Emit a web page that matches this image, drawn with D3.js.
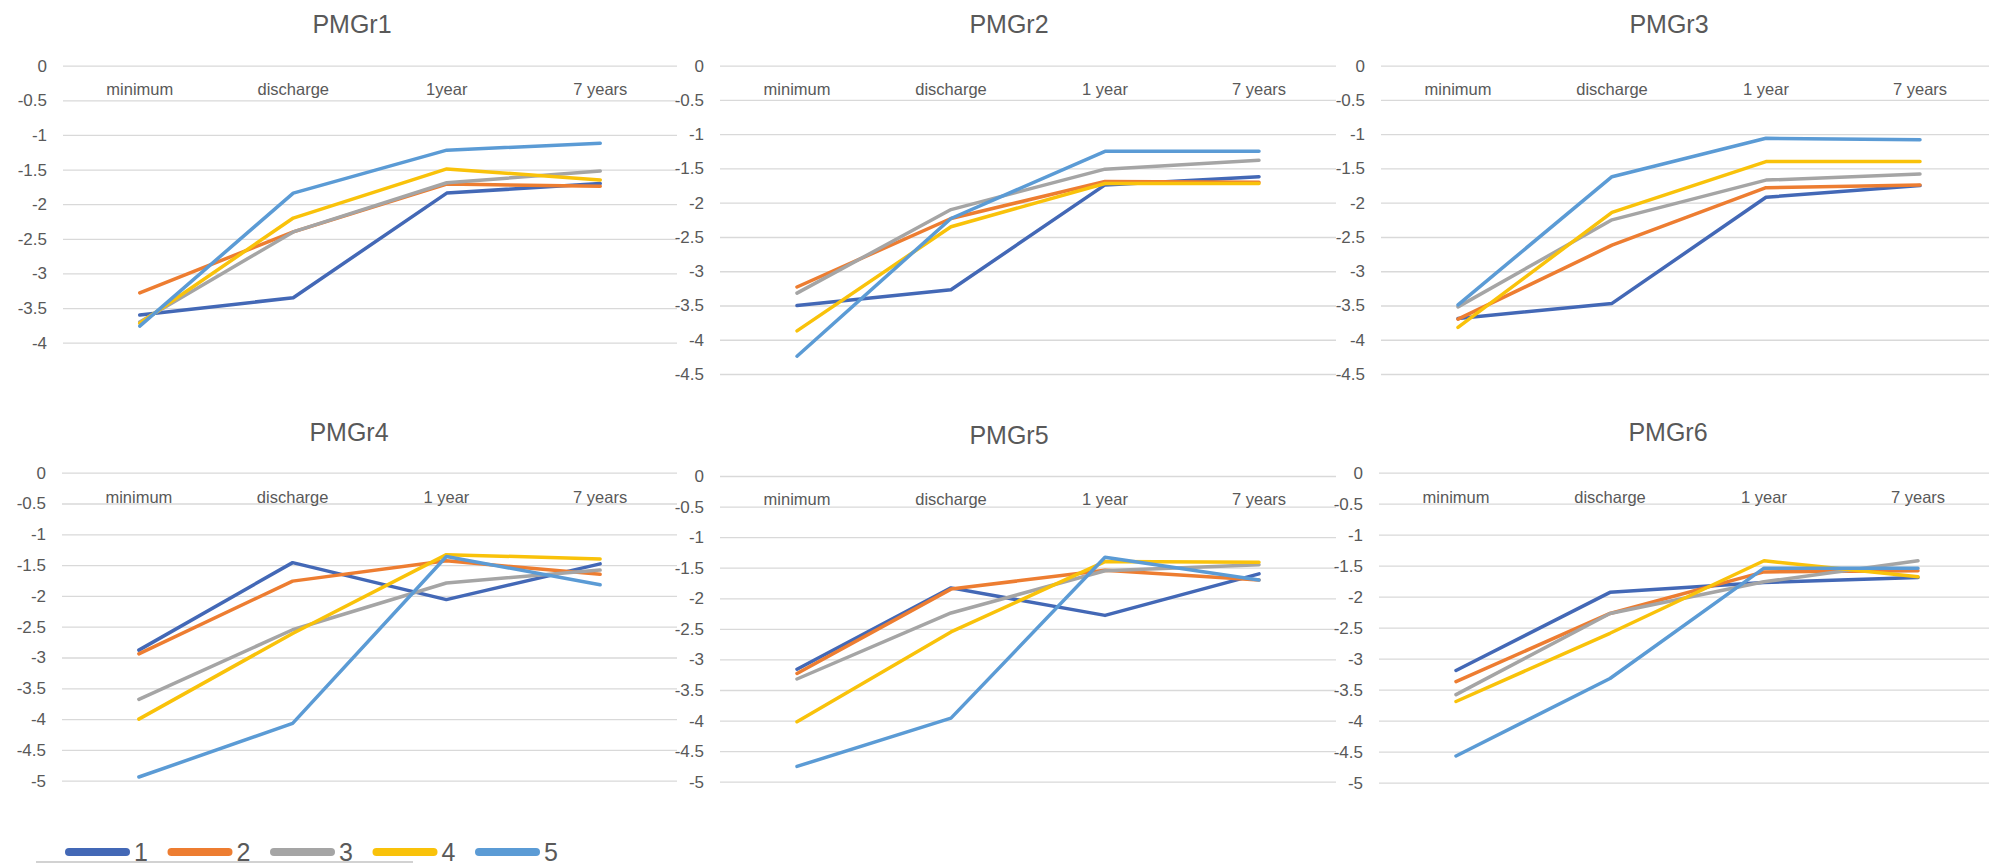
<!DOCTYPE html>
<html>
<head>
<meta charset="utf-8">
<script src="https://cdn.jsdelivr.net/npm/d3@7"></script>
<style>
  html, body { margin: 0; padding: 0; background: #fff; }
  svg { display: block; font-family: "Liberation Sans", Arial, sans-serif; }
</style>
</head>
<body>
<svg id="chart" width="1989" height="865"></svg>
<script>
// ---------- data ----------
const seriesNames = ["1", "2", "3", "4", "5"];
const seriesColors = ["#4368B6", "#ED7D31", "#A5A5A5", "#F9C20A", "#5B9BD5"];
const panelTitles = ["PMGr1", "PMGr2", "PMGr3", "PMGr4", "PMGr5", "PMGr6"];
const categoriesP1 = ["minimum", "discharge", "1year", "7 years"];
const categories = ["minimum", "discharge", "1 year", "7 years"];
const ticksTop1 = [0, -0.5, -1, -1.5, -2, -2.5, -3, -3.5, -4];
const ticksTop = [0, -0.5, -1, -1.5, -2, -2.5, -3, -3.5, -4, -4.5];
const ticksBottom = [0, -0.5, -1, -1.5, -2, -2.5, -3, -3.5, -4, -4.5, -5];

// values per panel: one row per series (1..5), one value per category
const pmgr1 = [
  [-3.60, -3.35, -1.84, -1.70],
  [-3.28, -2.40, -1.71, -1.74],
  [-3.70, -2.40, -1.69, -1.52],
  [-3.72, -2.20, -1.49, -1.65],
  [-3.76, -1.84, -1.22, -1.12]
];
const pmgr2 = [
  [-3.50, -3.27, -1.74, -1.62],
  [-3.23, -2.23, -1.69, -1.70],
  [-3.32, -2.10, -1.51, -1.38],
  [-3.87, -2.35, -1.72, -1.72],
  [-4.24, -2.23, -1.25, -1.25]
];
const pmgr3 = [
  [-3.69, -3.47, -1.92, -1.75],
  [-3.70, -2.62, -1.78, -1.74],
  [-3.52, -2.25, -1.67, -1.58],
  [-3.82, -2.14, -1.40, -1.40],
  [-3.49, -1.62, -1.06, -1.08]
];
const pmgr4 = [
  [-2.88, -1.46, -2.06, -1.48],
  [-2.94, -1.76, -1.43, -1.65],
  [-3.68, -2.55, -1.79, -1.58],
  [-4.00, -2.61, -1.33, -1.40],
  [-4.94, -4.07, -1.36, -1.82]
];
const pmgr5 = [
  [-3.16, -1.83, -2.28, -1.60],
  [-3.23, -1.85, -1.54, -1.70],
  [-3.32, -2.24, -1.55, -1.45],
  [-4.02, -2.55, -1.40, -1.41],
  [-4.75, -3.96, -1.33, -1.70]
];
const pmgr6 = [
  [-3.19, -1.93, -1.77, -1.69],
  [-3.37, -2.27, -1.60, -1.58],
  [-3.58, -2.27, -1.76, -1.42],
  [-3.69, -2.59, -1.42, -1.68],
  [-4.57, -3.32, -1.54, -1.54]
];

// ---------- layout ----------
const panels = [
  { title: panelTitles[0], cats: categoriesP1, ticks: ticksTop1, values: pmgr1, x0: 63, x1: 677, y0: 65.7, y1: 342.7, titleX: 352, titleY: 33, catY: 95 },
  { title: panelTitles[1], cats: categories, ticks: ticksTop, values: pmgr2, x0: 720, x1: 1336, y0: 65.7, y1: 374, titleX: 1009, titleY: 33, catY: 95 },
  { title: panelTitles[2], cats: categories, ticks: ticksTop, values: pmgr3, x0: 1381, x1: 1997, y0: 65.7, y1: 374, titleX: 1669, titleY: 33, catY: 95 },
  { title: panelTitles[3], cats: categories, ticks: ticksBottom, values: pmgr4, x0: 62, x1: 677, y0: 472.7, y1: 780.7, titleX: 349, titleY: 441, catY: 503 },
  { title: panelTitles[4], cats: categories, ticks: ticksBottom, values: pmgr5, x0: 720, x1: 1336, y0: 476, y1: 781.7, titleX: 1009, titleY: 444, catY: 505 },
  { title: panelTitles[5], cats: categories, ticks: ticksBottom, values: pmgr6, x0: 1379, x1: 1995, y0: 472.7, y1: 782.7, titleX: 1668, titleY: 441, catY: 503 }
];

const svg = d3.select("#chart");
const textColor = "#595959";

panels.forEach(p => {
  const g = svg.append("g");
  const yMin = p.ticks[p.ticks.length - 1];
  const x = d3.scaleBand().domain(p.cats).range([p.x0, p.x1]);
  const y = d3.scaleLinear().domain([0, yMin]).range([p.y0, p.y1]);

  // gridlines + y labels via axis
  const yAxis = d3.axisLeft(y).tickValues(p.ticks).tickSize(-(p.x1 - p.x0)).tickPadding(16)
    .tickFormat(d => String(d));
  const ag = g.append("g").attr("transform", `translate(${p.x0},0)`).call(yAxis);
  ag.select(".domain").remove();
  ag.selectAll(".tick line").attr("stroke", "#D9D9D9").attr("stroke-width", 1.3);
  ag.selectAll(".tick text").attr("fill", textColor).attr("font-size", 17);

  // category labels (top)
  const xAxis = d3.axisTop(x).tickSize(0).tickPadding(0);
  const xg = g.append("g").attr("transform", `translate(0,${p.catY})`).call(xAxis);
  xg.select(".domain").remove();
  xg.selectAll(".tick text").attr("fill", textColor).attr("font-size", 16.5).attr("dy", 0);

  // title
  g.append("text").attr("x", p.titleX).attr("y", p.titleY).attr("text-anchor", "middle")
    .attr("fill", textColor).attr("font-size", 25).text(p.title);

  // lines
  const line = d3.line().x((d, i) => x(p.cats[i]) + x.bandwidth() / 2).y(d => y(d));
  p.values.forEach((vals, si) => {
    g.append("path").datum(vals).attr("d", line)
      .attr("fill", "none").attr("stroke", seriesColors[si])
      .attr("stroke-width", 3.5).attr("stroke-linejoin", "round").attr("stroke-linecap", "round");
  });
});

// legend
const legendX = d3.scalePoint().domain(seriesNames).range([65, 475]);
const lg = svg.append("g");
lg.append("line").attr("x1", 36).attr("x2", 413).attr("y1", 862).attr("y2", 862)
  .attr("stroke", "#A6A6A6").attr("stroke-width", 1.2);
seriesNames.forEach((n, i) => {
  const lx = legendX(n);
  lg.append("line").attr("x1", lx + 4).attr("x2", lx + 61).attr("y1", 852).attr("y2", 852)
    .attr("stroke", seriesColors[i]).attr("stroke-width", 8).attr("stroke-linecap", "round");
  lg.append("text").attr("x", lx + 69).attr("y", 861).attr("fill", textColor)
    .attr("font-size", 25).text(n);
});
</script>
</body>
</html>
